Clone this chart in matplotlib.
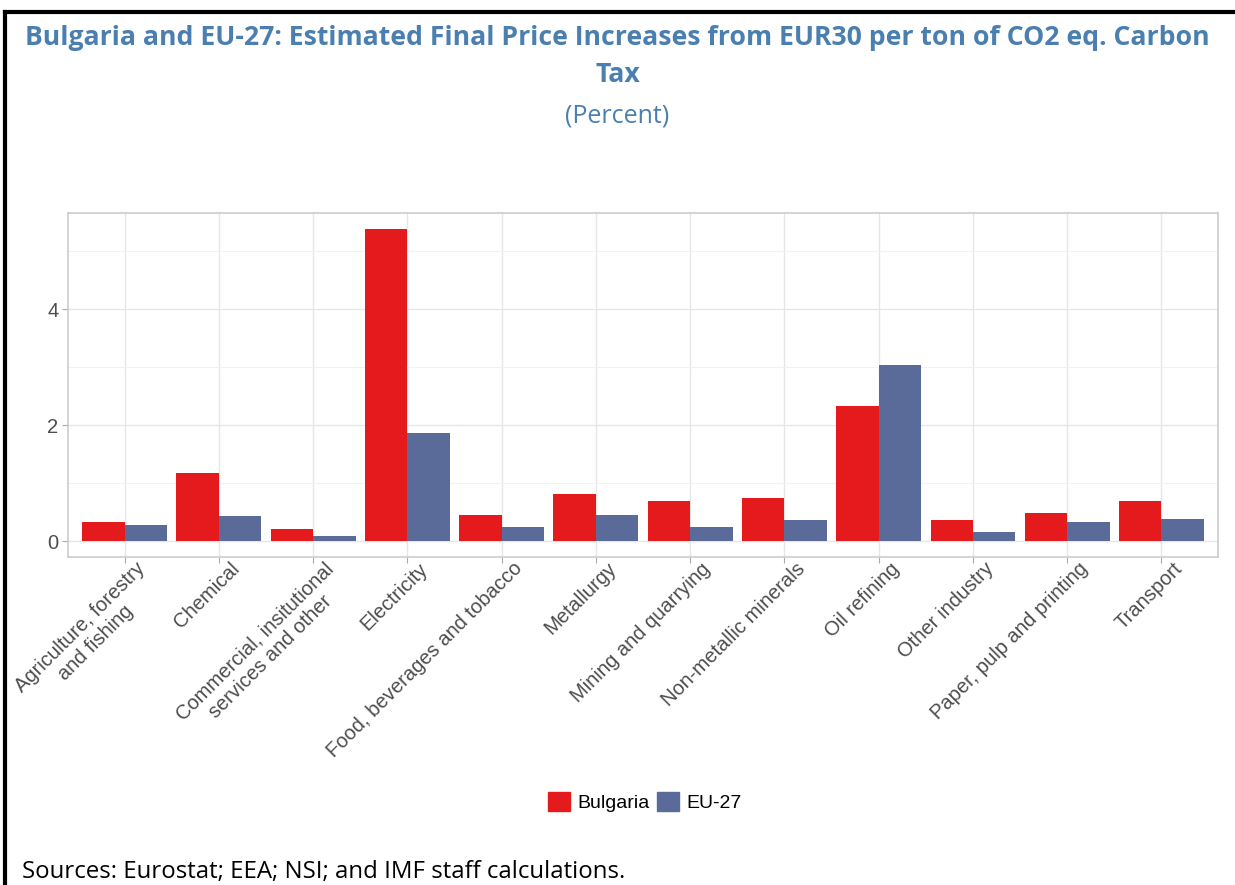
import matplotlib.pyplot as plt
import numpy as np
import matplotlib.transforms as mtransforms
from matplotlib.lines import Line2D
from matplotlib.patches import Patch

sectors = ["Agriculture, forestry\nand fishing", "Chemical",
           "Commercial, insitutional\nservices and other", "Electricity",
           "Food, beverages and tobacco", "Metallurgy", "Mining and quarrying",
           "Non-metallic minerals", "Oil refining", "Other industry",
           "Paper, pulp and printing", "Transport"]
bulgaria = [0.34, 1.18, 0.21, 5.39, 0.45, 0.81, 0.69, 0.75, 2.33, 0.36, 0.48, 0.70]
eu27 = [0.29, 0.43, 0.09, 1.87, 0.25, 0.46, 0.24, 0.36, 3.04, 0.16, 0.34, 0.39]

red = '#e41a1c'
blue = '#5a6b99'
title_col = '#4a7fb0'
grey_txt = '#4d4d4d'

fig = plt.figure(figsize=(12.35, 8.85), dpi=100)
ax = fig.add_axes([68/1235, 1-557/885, (1218-68)/1235, (557-213)/885])

x = np.arange(len(sectors))
w = 0.45
ax.bar(x - w/2, bulgaria, w, color=red, zorder=3)
ax.bar(x + w/2, eu27, w, color=blue, zorder=3)

ax.set_xlim(-0.6, len(sectors) - 0.4)
ax.set_ylim(-0.27, 5.66)
ax.set_yticks([0, 2, 4])
ax.set_yticks([1, 3, 5], minor=True)
ax.set_xticks(x)
ax.set_xticklabels([])

# rotated category labels, nudged right like the original
trans = mtransforms.blended_transform_factory(ax.transData, ax.transAxes) + \
    mtransforms.ScaledTranslation(11/100, -2/100, fig.dpi_scale_trans)
for i, name in enumerate(sectors):
    ax.text(i, 0, name, transform=trans, rotation=45, ha='right', va='top',
            rotation_mode='anchor', multialignment='center', fontsize=14.5,
            color=grey_txt, family='Liberation Sans', clip_on=False)

for lab in ax.get_yticklabels():
    lab.set_fontsize(14.5)
    lab.set_color(grey_txt)
    lab.set_family('Liberation Sans')

ax.grid(which='major', color='#e6e6e6', linewidth=1.0, zorder=0)
ax.grid(which='minor', axis='y', color='#f2f2f2', linewidth=0.8, zorder=0)
ax.tick_params(which='major', length=4, color='#aaaaaa', pad=3)
ax.tick_params(which='minor', length=0)
for s in ax.spines.values():
    s.set_color('#cccccc')
    s.set_linewidth(1.2)

fig.text(0.5, 1-38/885, "Bulgaria and EU-27: Estimated Final Price Increases from EUR30 per ton of CO2 eq. Carbon",
         ha='center', va='center', fontsize=19.2, fontweight='bold', color=title_col, family='Open Sans')
fig.text(0.5, 1-75/885, "Tax", ha='center', va='center', fontsize=19.2,
         fontweight='bold', color=title_col, family='Open Sans')
fig.text(0.5, 1-116/885, "(Percent)", ha='center', va='center', fontsize=18,
         color=title_col, family='Open Sans')

handles = [Patch(color=red, label='Bulgaria'), Patch(color=blue, label='EU-27')]
fig.legend(handles=handles, loc='center', bbox_to_anchor=(645/1235, 1-802/885), ncol=2,
           frameon=False, prop={'family': 'Liberation Sans', 'size': 14},
           handlelength=1.1, handleheight=1.1, handletextpad=0.4, columnspacing=0.4)

fig.text(22/1235, 1-878/885, "Sources: Eurostat; EEA; NSI; and IMF staff calculations.",
         ha='left', va='baseline', fontsize=17.3, color='black', family='Open Sans')

# frame lines at top and left
fig.add_artist(Line2D([5/1235, 5/1235], [0, 1-12/885], color='black', linewidth=3, transform=fig.transFigure))
fig.add_artist(Line2D([5/1235, 1], [1-12/885, 1-12/885], color='black', linewidth=3, transform=fig.transFigure))

fig.savefig('out.png', dpi=100)
